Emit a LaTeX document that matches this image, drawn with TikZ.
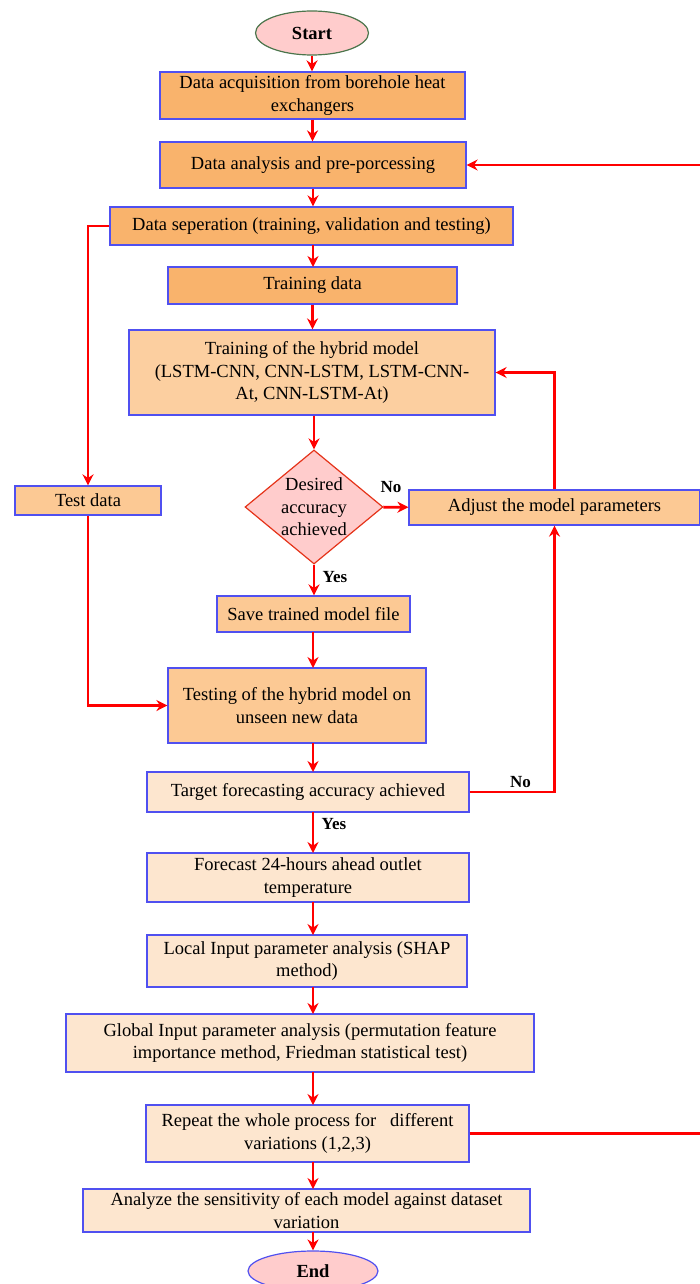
\documentclass[tikz,border=0pt]{standalone}
\usepackage{fontspec}
\setmainfont{Liberation Serif}
\usetikzlibrary{shapes.geometric,arrows.meta}
\definecolor{boxblue}{HTML}{5050F0}
\definecolor{darkor}{HTML}{F9B36C}
\definecolor{midor}{HTML}{FCC994}
\definecolor{lightor}{HTML}{FDE6CF}
\definecolor{pinkfill}{HTML}{FFCCCC}
\tikzset{x=1pt, y=-1pt,
  box/.style={draw=boxblue, line width=1.2pt, align=center, inner sep=0pt,
    font=\fontsize{18.5}{22.5}\selectfont},
  term/.style={ellipse, draw, line width=1.2pt, fill=pinkfill, inner sep=0pt,
    font=\fontsize{18.5}{22.5}\selectfont\bfseries},
  flow/.style={draw=red, line width=2.8pt, -{Stealth[length=11pt,width=11pt]}},
  lab/.style={font=\fontsize{17}{20}\selectfont\bfseries}}

\begin{document}
\begin{tikzpicture}
\useasboundingbox (0,0) rectangle (700,1284);
\node (start) [term, draw=black!60!green!40!gray, minimum width=113, minimum height=44] at (312,33) {Start};
\node (acq) [box, fill=darkor, minimum width=305, minimum height=47] at (312.5,95.5) {Data acquisition from borehole heat\\exchangers};
\node (prep) [box, fill=darkor, minimum width=306, minimum height=46] at (313,165) {Data analysis and pre-porcessing};
\node (sep) [box, fill=darkor, minimum width=403, minimum height=38] at (311.5,226) {Data seperation (training, validation and testing)};
\node (train) [box, fill=darkor, minimum width=289, minimum height=37] at (312.5,285.5) {Training data};
\node (hybrid) [box, fill=midor!80!lightor, minimum width=366, minimum height=85] at (312,372.5) {Training of the hybrid model\\(LSTM-CNN, CNN-LSTM, LSTM-CNN-\\At, CNN-LSTM-At)};
\node (check) [diamond, draw=red!60!brown, line width=1.2pt, fill=pinkfill, aspect=1.2, minimum width=138, minimum height=114, inner sep=0pt, align=center, font=\fontsize{18.5}{22.5}\selectfont] at (314,507) {Desired\\accuracy\\achieved};
\node (adjust) [box, fill=midor, minimum width=291, minimum height=35] at (554.5,507.5) {Adjust the model parameters};
\node (testdata) [box, fill=midor, minimum width=146, minimum height=29] at (88,500.5) {Test data};
\node (save) [box, fill=midor, minimum width=193, minimum height=36] at (313.5,614) {Save trained model file};
\node (testing) [box, fill=midor, minimum width=258, minimum height=75] at (297,705.5) {Testing of the hybrid model on\\unseen new data};
\node (target) [box, fill=lightor, minimum width=322, minimum height=40] at (308,792) {Target forecasting accuracy achieved};
\node (forecast) [box, fill=lightor, minimum width=322, minimum height=49] at (308,877.5) {Forecast 24-hours ahead outlet\\temperature};
\node (local) [box, fill=lightor, minimum width=320, minimum height=52] at (307,961) {Local Input parameter analysis (SHAP\\method)};
\node (global) [box, fill=lightor, minimum width=468, minimum height=58] at (300,1043) {Global Input parameter analysis (permutation feature\\importance method, Friedman statistical test)};
\node (repeat) [box, fill=lightor, minimum width=323, minimum height=57] at (307.5,1133.5) {Repeat the whole process for \ \ different\\variations (1,2,3)};
\node (sens) [box, fill=lightor, minimum width=447, minimum height=43] at (306.5,1210.5) {Analyze the sensitivity of each model against dataset\\variation};
\node (stop) [term, draw=boxblue, minimum width=130, minimum height=40] at (313,1271) {End};
\coordinate (edge) at (701.5,1133.5);
% main line
\draw[flow] (start) -- (start |- acq.north);
\draw[flow] (acq) -- (acq |- prep.north);
\draw[flow] (prep) -- (prep |- sep.north);
\draw[flow] (313,245) -- (313,267);
\draw[flow] (train) -- (train |- hybrid.north);
\draw[flow] (check |- hybrid.south) -- (check.north);
\draw[flow] (check) -- node[lab, above, yshift=10pt, pos=0.3] {No} (adjust);
\draw[flow] (check) -- node[lab, right=4pt, pos=0.4] {Yes} (check |- save.north);
\draw[flow] (313,632) -- (313,668);
\draw[flow] (313,743) -- (313,772);
\draw[flow] (313,812) -- node[lab, right=4pt, pos=0.3] {Yes} (313,853);
\draw[flow] (313,902) -- (313,935);
\draw[flow] (313,987) -- (313,1014);
\draw[flow] (313,1072) -- (313,1105);
\draw[flow] (313,1162) -- (313,1189);
\draw[flow] (313,1232) -- (stop.north);
% side loops
\draw[flow] (sep.west) -| (testdata.north);
\draw[flow] (testdata.south) |- (testing.west);
\draw[flow] (adjust.north) |- (hybrid.east);
\draw[flow] (target.east) -| node[lab, above, pos=0.3] {No} (adjust.south);
\draw[flow] (repeat.east) -- (edge) |- (prep.east);
\end{tikzpicture}
\end{document}
